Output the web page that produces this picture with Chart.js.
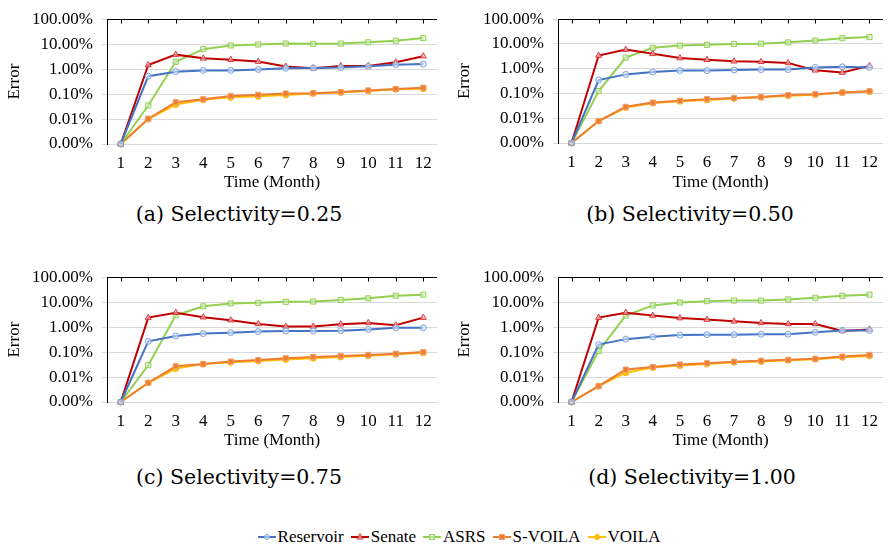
<!DOCTYPE html>
<html>
<head>
<meta charset="utf-8">
<script src="https://cdn.jsdelivr.net/npm/chart.js@4/dist/chart.umd.min.js"></script>
<style>
  html, body { margin: 0; padding: 0; background: #fff; }
  body { width: 888px; height: 549px; position: relative; overflow: hidden; }
  canvas.pane { position: absolute; }
  .cap { position: absolute; font-family: "DejaVu Serif", serif; font-size: 20.5px; color: #000;
         transform: translate(-50%, -50%); white-space: nowrap; }
  #legend { position: absolute; left: 30px; width: 858px; top: 527px; height: 20px;
            display: flex; justify-content: center; align-items: center;
            font-family: "Liberation Serif", serif; font-size: 17px; color: #000; }
  .item { display: flex; align-items: center; margin: 0 3.5px; }
  .item svg { margin-right: 2px; }
</style>
</head>
<body>
<canvas id="cA" class="pane" width="444" height="200" style="left:0px;top:0px;"></canvas>
<canvas id="cB" class="pane" width="444" height="200" style="left:444px;top:0px;"></canvas>
<canvas id="cC" class="pane" width="444" height="200" style="left:0px;top:258px;"></canvas>
<canvas id="cD" class="pane" width="444" height="200" style="left:444px;top:258px;"></canvas>
<div class="cap" style="left:239px;top:214px;">(a) Selectivity=0.25</div>
<div class="cap" style="left:690px;top:214px;">(b) Selectivity=0.50</div>
<div class="cap" style="left:239px;top:477px;">(c) Selectivity=0.75</div>
<div class="cap" style="left:692px;top:477px;">(d) Selectivity=1.00</div>
<div id="legend"></div>
<script>
// ---- data (error in %) ----
const months = ['1','2','3','4','5','6','7','8','9','10','11','12'];
const seriesNames = ['Reservoir','Senate','ASRS','S-VOILA','VOILA'];
const yTickValues = [0.001, 0.01, 0.1, 1, 10, 100];
const xTitle = 'Time (Month)';
const yTitle = 'Error';

// (a) Selectivity=0.25
const resA  = [0, 0.52, 0.79, 0.89, 0.89, 0.97, 1.09, 1.12, 1.15, 1.3, 1.5, 1.6];
const senA  = [0, 1.47, 3.8, 2.7, 2.4, 2.0, 1.27, 1.09, 1.34, 1.34, 1.9, 3.3];
const asrsA = [0, 0.035, 1.97, 6.3, 8.9, 9.7, 10.6, 10.3, 10.6, 11.9, 13.8, 17.5];
const svA   = [0, 0.0103, 0.047, 0.062, 0.084, 0.094, 0.106, 0.109, 0.12, 0.14, 0.16, 0.18];
const vA    = [0, 0.010, 0.038, 0.059, 0.074, 0.081, 0.092, 0.106, 0.116, 0.134, 0.156, 0.165];

// (b) Selectivity=0.50
const resB  = [0, 0.35, 0.59, 0.74, 0.84, 0.84, 0.89, 0.92, 0.92, 1.13, 1.19, 1.13];
const senB  = [0, 3.4, 5.9, 4.0, 2.7, 2.3, 2.0, 1.9, 1.7, 0.86, 0.70, 1.3];
const asrsB = [0, 0.126, 2.8, 7.0, 8.6, 9.2, 10, 10.3, 11.6, 13.8, 17, 19];
const svB   = [0, 0.0077, 0.029, 0.043, 0.051, 0.059, 0.066, 0.072, 0.086, 0.094, 0.109, 0.123];
const vB    = [0, 0.0077, 0.027, 0.041, 0.049, 0.055, 0.063, 0.07, 0.081, 0.089, 0.109, 0.12];

// (c) Selectivity=0.75
const resC  = [0, 0.27, 0.44, 0.55, 0.60, 0.66, 0.70, 0.70, 0.72, 0.81, 0.94, 0.94];
const senC  = [0, 2.4, 3.8, 2.5, 1.9, 1.34, 1.06, 1.06, 1.3, 1.47, 1.19, 2.4];
const asrsC = [0, 0.03, 3.0, 6.8, 8.9, 9.4, 10.3, 10.6, 12.3, 14.2, 18, 20];
const svC   = [0, 0.0059, 0.027, 0.033, 0.042, 0.048, 0.057, 0.064, 0.07, 0.077, 0.086, 0.1];
const vC    = [0, 0.0059, 0.022, 0.033, 0.039, 0.044, 0.051, 0.057, 0.064, 0.072, 0.081, 0.094];

// (d) Selectivity=1.00
const resD  = [0, 0.2, 0.33, 0.41, 0.48, 0.5, 0.5, 0.52, 0.52, 0.62, 0.74, 0.74];
const senD  = [0, 2.4, 3.8, 2.9, 2.3, 2.0, 1.7, 1.47, 1.34, 1.34, 0.7, 0.81];
const asrsD = [0, 0.11, 2.9, 7.4, 9.7, 11, 11.6, 11.6, 12.9, 15, 18, 20];
const svD   = [0, 0.0043, 0.02, 0.025, 0.032, 0.036, 0.041, 0.045, 0.049, 0.054, 0.066, 0.077];
const vD    = [0, 0.0043, 0.015, 0.024, 0.029, 0.033, 0.039, 0.042, 0.047, 0.052, 0.062, 0.07];

// ---- styles ----
const styles = [
  { line: '#4472C4', pt: 'circle',   r: 3,   ptBorder: '#7DA5E0', ptBg: 'rgba(220,232,248,0.6)' },
  { line: '#C00000', pt: 'triangle', r: 3.5, ptBorder: '#D9383E', ptBg: 'rgba(244,182,182,0.7)' },
  { line: '#92D050', pt: 'rect',     r: 3.6, ptBorder: '#92D050', ptBg: 'rgba(214,236,198,0.6)' },
  { line: '#ED7D31', pt: 'rect',     r: 3.6, ptBorder: '#F4A06A', ptBg: '#ED7D31' },
  { line: '#FFC000', pt: 'circle',   r: 3,   ptBorder: '#FFB000', ptBg: '#FFC000' }
];
const FONT = { family: "'Liberation Serif', serif", size: 17 };
const yMin = yTickValues[0], yMax = yTickValues[yTickValues.length - 1];

const topFrame = {
  id: 'topFrame',
  afterDraw(chart) {
    const { ctx, chartArea } = chart;
    const xs = chart.scales.x;
    const y = Math.round(chartArea.top) + 0.5;
    ctx.save();
    ctx.strokeStyle = '#000';
    ctx.lineWidth = 1;
    ctx.beginPath();
    ctx.moveTo(chartArea.left, y);
    ctx.lineTo(chartArea.right, y);
    xs.ticks.forEach((t, i) => {
      const x = Math.round(xs.getPixelForTick(i)) + 0.5;
      ctx.moveTo(x, y);
      ctx.lineTo(x, y + 4);
    });
    ctx.stroke();
    ctx.restore();
  }
};

function makeChart(id, series, pad, yw, xh) {
  const datasets = series.map((arr, i) => ({
    label: seriesNames[i],
    data: arr.map(v => (v <= 0 ? yMin : v)),
    borderColor: styles[i].line,
    backgroundColor: styles[i].line,
    borderWidth: 2,
    pointStyle: styles[i].pt,
    pointRadius: styles[i].r,
    pointBorderColor: styles[i].ptBorder,
    pointBackgroundColor: styles[i].ptBg,
    pointBorderWidth: 1,
    tension: 0,
    clip: false
  }));
  return new Chart(document.getElementById(id), {
    type: 'line',
    data: { labels: months, datasets },
    plugins: [topFrame],
    options: {
      responsive: false,
      animation: false,
      layout: { padding: pad },
      plugins: { legend: { display: false }, tooltip: { enabled: false } },
      scales: {
        x: {
          type: 'category',
          offset: true,
          grid: { display: false, drawTicks: false },
          border: { display: false },
          ticks: { font: FONT, color: '#000', padding: 9, autoSkip: false, maxRotation: 0 },
          title: { display: true, text: xTitle, font: FONT, color: '#000', padding: { top: 0, bottom: 7 } },
          afterFit: s => { s.height = xh; }
        },
        y: {
          type: 'logarithmic',
          min: yMin,
          max: yMax,
          afterBuildTicks: s => { s.ticks = yTickValues.map(v => ({ value: v })); },
          ticks: { font: FONT, color: '#000', padding: 9, callback: v => Number(v).toFixed(2) + '%' },
          grid: { color: '#d9d9d9', lineWidth: 1, tickLength: 5 },
          border: { display: true, color: '#000', width: 1 },
          title: { display: true, text: yTitle, font: FONT, color: '#000', padding: { top: 4, bottom: 0 } },
          afterFit: s => { s.width = yw; }
        }
      }
    }
  });
}

makeChart('cA', [resA, senA, asrsA, svA, vA], { left: 0, right: 7, top: 14, bottom: 0 }, 107, 56);
makeChart('cB', [resB, senB, asrsB, svB, vB], { left: 6, right: 0, top: 13, bottom: 0 }, 108, 57);
makeChart('cC', [resC, senC, asrsC, svC, vC], { left: 0, right: 7, top: 14, bottom: 0 }, 107, 56);
makeChart('cD', [resD, senD, asrsD, svD, vD], { left: 6, right: 0, top: 14, bottom: 0 }, 108, 56);

// ---- legend (HTML, real text) ----
const legend = document.getElementById('legend');
const svgNS = 'http://www.w3.org/2000/svg';
seriesNames.forEach((name, i) => {
  const st = styles[i];
  const item = document.createElement('div');
  item.className = 'item';
  const svg = document.createElementNS(svgNS, 'svg');
  svg.setAttribute('width', '18'); svg.setAttribute('height', '10');
  const ln = document.createElementNS(svgNS, 'line');
  ln.setAttribute('x1', '0'); ln.setAttribute('x2', '18');
  ln.setAttribute('y1', '5'); ln.setAttribute('y2', '5');
  ln.setAttribute('stroke', st.line); ln.setAttribute('stroke-width', '2');
  svg.appendChild(ln);
  let mk;
  if (st.pt === 'circle') {
    mk = document.createElementNS(svgNS, 'circle');
    mk.setAttribute('cx', '9'); mk.setAttribute('cy', '5'); mk.setAttribute('r', '2.5');
  } else if (st.pt === 'rect') {
    mk = document.createElementNS(svgNS, 'rect');
    mk.setAttribute('x', '6.5'); mk.setAttribute('y', '2.5'); mk.setAttribute('width', '5'); mk.setAttribute('height', '5');
  } else {
    mk = document.createElementNS(svgNS, 'polygon');
    mk.setAttribute('points', '9,1.5 12,7 6,7');
  }
  mk.setAttribute('fill', st.ptBg); mk.setAttribute('stroke', st.ptBorder); mk.setAttribute('stroke-width', '1');
  svg.appendChild(mk);
  const txt = document.createElement('span');
  txt.textContent = name;
  item.appendChild(svg);
  item.appendChild(txt);
  legend.appendChild(item);
});
</script>
</body>
</html>
